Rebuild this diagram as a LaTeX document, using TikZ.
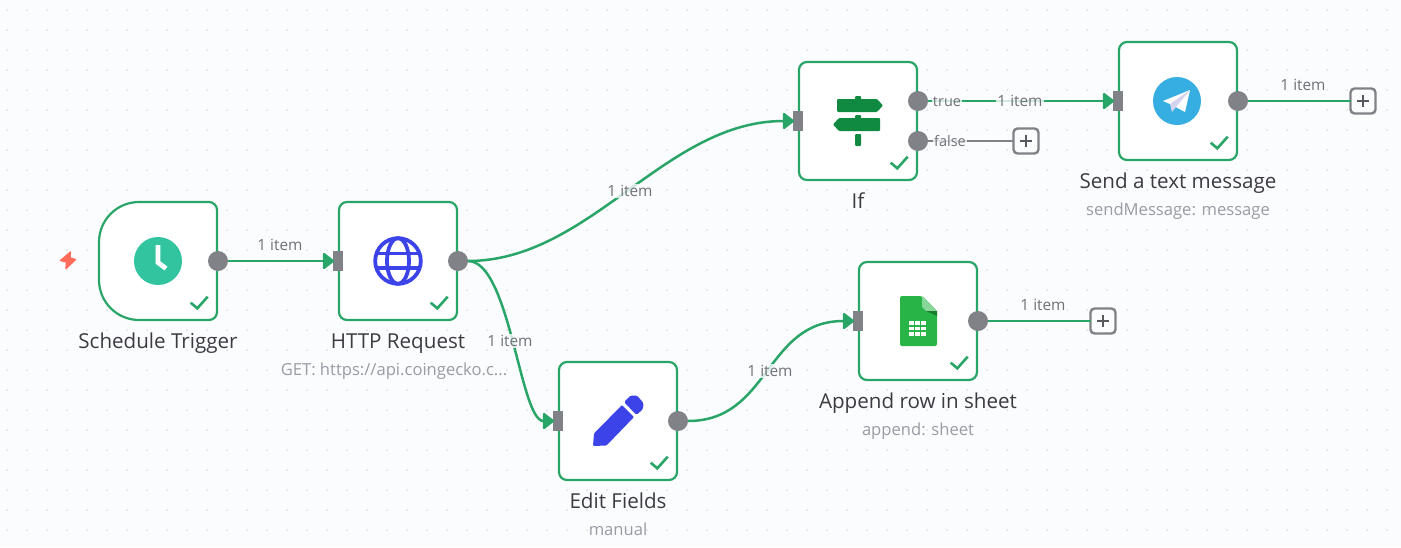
\documentclass[tikz,border=0pt]{standalone}
\usepackage{fontspec}
\setmainfont{Open Sans}
\usetikzlibrary{arrows.meta,calc}
\definecolor{bgc}{HTML}{FBFCFE}
\definecolor{dotc}{HTML}{C4C8D0}
\definecolor{okc}{HTML}{29A568}
\definecolor{portc}{HTML}{808287}
\definecolor{titlec}{HTML}{3C3B42}
\definecolor{subc}{HTML}{9A9BA3}
\definecolor{lblc}{HTML}{6F7177}
\definecolor{bluec}{HTML}{3C43E8}
\definecolor{boltc}{HTML}{FF6D5A}
\definecolor{clockc}{HTML}{31C49F}
\definecolor{signc}{HTML}{118A41}
\definecolor{teleb}{HTML}{37AEE2}
\definecolor{sheetc}{HTML}{28B446}
\tikzset{
  nodebox/.style={draw=okc,line width=2.2pt,fill=white,rounded corners=8pt,minimum width=118pt,minimum height=118pt,inner sep=0pt,outer sep=0pt},
  triggerbox/.style={minimum width=118pt,minimum height=118pt,inner sep=0pt,outer sep=0pt},
  outport/.style={circle,fill=portc,minimum size=20pt,inner sep=0pt,outer sep=0pt},
  inport/.style={rectangle,fill=portc,minimum width=10pt,minimum height=20pt,inner sep=0pt,outer sep=0pt},
  plusbox/.style={draw=portc,line width=2.4pt,fill=bgc,rounded corners=4pt,minimum size=25pt,inner sep=0pt,outer sep=0pt,
    path picture={\draw[line width=1.2pt,draw=titlec!85] ([xshift=-6pt]path picture bounding box.center) -- ([xshift=6pt]path picture bounding box.center) ([yshift=-6pt]path picture bounding box.center) -- ([yshift=6pt]path picture bounding box.center);}},
  edge/.style={draw=okc,line width=2.5pt},
  arrowedge/.style={edge,-{Triangle[length=12pt,width=18pt,round]},shorten >=-1pt},
  greyedge/.style={draw=portc,line width=2.5pt},
  titlet/.style={text=titlec,font=\fontsize{20.6}{24}\selectfont,anchor=base,inner sep=0pt},
  subt/.style={text=subc,font=\fontsize{16.6}{18}\selectfont,anchor=base,inner sep=0pt},
  itemt/.style={text=lblc,font=\fontsize{15.4}{18}\selectfont,inner sep=1pt,fill=bgc,fill opacity=.8,text opacity=1},
  checkm/.style={draw=okc,line width=2.6pt,line join=miter},
}
\newcommand{\chk}[1]{\draw[checkm] ($(#1.south east)+(-26.3,-17.3)$) -- ++(6.6,5.6) -- ++(10.4,-11.6);}
\begin{document}
\begin{tikzpicture}[x=1pt,y=-1pt]
\useasboundingbox (0,0) rectangle (1401,547);
\fill[bgc] (0,0) rectangle (1401,547);
\foreach \i in {0,...,69}{\foreach \j in {0,...,27}{\fill[dotc] (7+20*\i,10+20*\j) circle[radius=.75];}}

% boxes
\node[triggerbox] (trig) at (158,261) {};
\node[nodebox] (http) at (398,261) {};
\node[nodebox] (ifn) at (858,121) {};
\node[nodebox] (tele) at (1178,101) {};
\node[nodebox] (edit) at (618,421) {};
\node[nodebox] (sheet) at (918,321) {};
\draw[draw=okc,line width=2.2pt,fill=white] (139,202) -- (209,202) .. controls (213.4,202) and (217,205.6) .. (217,210) -- (217,312) .. controls (217,316.4) and (213.4,320) .. (209,320) -- (139,320) .. controls (117,320) and (99,302) .. (99,280) -- (99,242) .. controls (99,220) and (117,202) .. (139,202) -- cycle;

% ports
\node[outport] (trigo) at (218,261) {};
\node[outport] (httpo) at (458,261) {};
\node[outport] (ifa) at (918,101) {};
\node[outport] (ifb) at (918,141) {};
\node[outport] (teleo) at (1238,101) {};
\node[outport] (edito) at (678,421) {};
\node[outport] (sheeto) at (978,321) {};
\node[inport] (httpi) at (338,261) {};
\node[inport] (ifi) at (798,121) {};
\node[inport] (telei) at (1118,101) {};
\node[inport] (editi) at (558,421) {};
\node[inport] (sheeti) at (858,321) {};
\node[plusbox] (pfalse) at (1026,141) {};
\node[plusbox] (ptele) at (1363,101) {};
\node[plusbox] (psheet) at (1103,321) {};

% connectors
\draw[arrowedge] (trigo.east) -- (httpi.west);
\draw[arrowedge] (httpo.east) .. controls (590,261) and (665,121) .. (ifi.west);
\draw[arrowedge] (httpo.east) .. controls (510,261) and (520,421) .. (editi.west);
\draw[arrowedge] (edito.east) .. controls (770,421) and (765,321) .. (sheeti.west);
\draw[arrowedge] (ifa.east) -- (telei.west);
\draw[greyedge] (ifb.east) -- (pfalse.west);
\draw[edge] (teleo.east) -- (ptele.west);
\draw[edge] (sheeto.east) -- (psheet.west);

% edge labels
\node[itemt] (l1) at (280,245) {1 item};
\node[itemt] (l2) at (630,191) {1 item};
\node[itemt] (l3) at (510,341) {1 item};
\node[itemt] (l4) at (770,371) {1 item};
\node[itemt] (l5) at (1020,101) {1 item};
\node[itemt] (l6) at (1303,85) {1 item};
\node[itemt] (l7) at (1043,305) {1 item};
\node[itemt,font=\fontsize{14.5}{18}\selectfont] (ltrue) at (947,101.5) {true};
\node[itemt,font=\fontsize{14.5}{18}\selectfont] (lfalse) at (950,141.5) {false};

% titles
\node[titlet] (t1) at (158,348) {Schedule Trigger};
\node[titlet] (t2) at (398,348) {HTTP Request};
\node[subt] (s2) at (394,375) {GET: https://api.coingecko.c...};
\node[titlet] (t3) at (858,208) {If};
\node[titlet] (t4) at (1178,188) {Send a text message};
\node[subt] (s4) at (1178,215) {sendMessage: message};
\node[titlet] (t5) at (618,508) {Edit Fields};
\node[subt] (s5) at (618,535) {manual};
\node[titlet] (t6) at (918,408) {Append row in sheet};
\node[subt] (s6) at (918,435) {append: sheet};

% check marks
\chk{http}\chk{ifn}\chk{tele}\chk{edit}\chk{sheet}
\draw[checkm] (190.7,302.7) -- ++(6.6,5.6) -- ++(10.4,-11.6);

% bolt
\filldraw[fill=boltc,draw=boltc,line width=1.4pt,line join=round] (70.5,252) -- (60.5,260.5) -- (66.5,262) -- (66,268.5) -- (75.5,259.5) -- (70,258) -- cycle;

% clock
\fill[clockc] (158,261) circle[radius=24];
\draw[white,line width=4.8pt,line cap=butt,line join=miter] (158,245) -- (158,262.5) -- (166,268.5);

% globe
\begin{scope}[bluec,line width=3.8pt]
\draw (398,261) circle[radius=22.8];
\draw (398,261) ellipse[x radius=11,y radius=22.8];
\draw[line width=3.4pt] (377,253.5) -- (419,253.5) (377,268) -- (419,268);
\end{scope}

% signpost
\fill[signc,rounded corners=1pt] (837,99) -- (877,99) -- (883,105.5) -- (877,112) -- (837,112) -- cycle;
\fill[signc,rounded corners=1pt] (839,118) -- (880,118) -- (880,131) -- (839,131) -- (833,124.5) -- cycle;
\fill[signc,rounded corners=1pt] (855,96) rectangle (861,100);
\fill[signc,rounded corners=1pt] (855,115) rectangle (861,119);
\fill[signc,rounded corners=1pt] (855,134) rectangle (861,146);

% telegram
\fill[teleb] (1177,101) circle[radius=24];
\fill[white] (1190,90) -- (1163,101) -- (1170,104) -- (1185,112) -- cycle;
\fill[black!8!white!90!blue] (1190,90) -- (1170,104) -- (1172,112) -- (1176,107) -- cycle;

% pencil
\fill[bluec,rounded corners=1pt] (593,446) -- (594,433.5) -- (622,405) -- (634,417) -- (606.5,445.5) -- cycle;
\fill[bluec,rounded corners=1.5pt] (624,402) -- (630.5,395.5) -- (637,395.5) -- (643.5,403) -- (643,409) -- (636.5,415) -- cycle;

% sheet
\fill[sheetc,rounded corners=2pt] (900,296) -- (922,296) -- (937,311) -- (937,346) -- (900,346) -- cycle;
\fill[sheetc!55!white] (922,296) -- (937,311) -- (926,311) -- (922,307) -- cycle;
\fill[sheetc!70!black] (926,311) -- (937,311) -- (937,316) -- cycle;
\fill[white] (909,321) rectangle (926,336);
\draw[sheetc,line width=1.2pt] (909,326) -- (926,326) (909,331) -- (926,331) (914.7,321) -- (914.7,336) (920.3,321) -- (920.3,336);
\end{tikzpicture}
\end{document}
